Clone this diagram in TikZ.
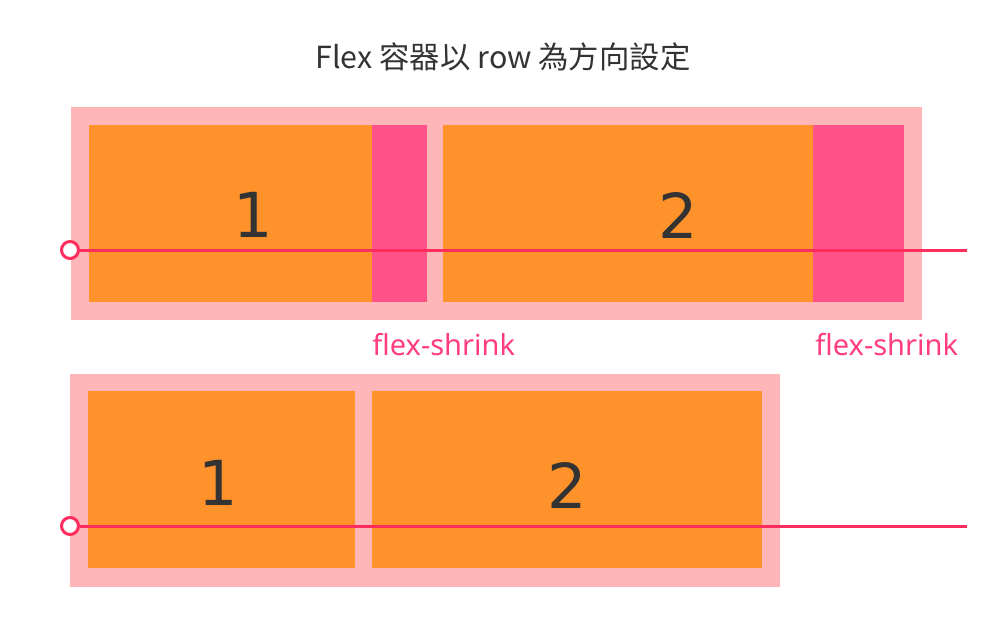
\documentclass[tikz,border=0pt]{standalone}
\usepackage{fontspec}
\setmainfont{Noto Sans}
\newfontfamily\cjkfont{Noto Sans CJK TC}
\newfontfamily\digitfont{DejaVu Sans}
\definecolor{contpink}{HTML}{FFB6B9}
\definecolor{itemorange}{HTML}{FF922B}
\definecolor{shrinkpink}{HTML}{FF5288}
\definecolor{axisred}{HTML}{FF2D5E}
\definecolor{labelpink}{HTML}{FF3D7F}
\definecolor{textdark}{HTML}{333333}
\begin{document}
\begin{tikzpicture}[x=0.5pt,y=-0.5pt,
  container/.style={fill=contpink, draw=none, anchor=north west, inner sep=0pt, outer sep=0pt},
  item/.style={fill=itemorange, draw=none, anchor=north west, inner sep=0pt, outer sep=0pt},
  shrinkbox/.style={fill=shrinkpink, draw=none, anchor=north west, inner sep=0pt, outer sep=0pt},
  digit/.style={text=textdark, font=\digitfont\fontsize{31}{31}\selectfont, inner sep=0pt},
  shrinklabel/.style={text=labelpink, font=\fontsize{14.5}{16}\selectfont, anchor=base west, inner sep=0pt},
  axisline/.style={draw=axisred, line width=1.5pt},
  startdot/.style={circle, draw=axisred, line width=1.5pt, fill=white, minimum size=8.5pt, inner sep=0pt}
]
\useasboundingbox (0,0) rectangle (1000,620);

% title
\node[text=textdark, font=\cjkfont\fontsize{15.2}{18}\selectfont, inner sep=0pt] (title) at (503,57) {Flex 容器以 row 為方向設定};

% top container
\node[container, minimum width=425.5pt, minimum height=106.5pt] (topc) at (71,107) {};
\node[item, minimum width=169pt, minimum height=88.5pt] (t1) at (89,125) {};
\node[shrinkbox, minimum width=27.5pt, minimum height=88.5pt] (ts1) at (372,125) {};
\node[item, minimum width=230.5pt, minimum height=88.5pt] (t2) at (443,125) {};
\node[shrinkbox, minimum width=45.5pt, minimum height=88.5pt] (ts2) at (813,125) {};
\node[digit] (t1d) at (253,215) {1};
\node[digit] (t2d) at (678,215) {2};

\node[startdot] (tdot) at (70,250) {};
\coordinate (tend) at (967,250);
\draw[axisline] (tdot.east) -- (tend);

\node[shrinklabel] (tl1) at (372,355) {flex-shrink};
\node[shrinklabel] (tl2) at (815,355) {flex-shrink};

% bottom container
\node[container, minimum width=355pt, minimum height=106.5pt] (botc) at (70,374) {};
\node[item, minimum width=133.5pt, minimum height=88.5pt] (b1) at (88,391) {};
\node[item, minimum width=195pt, minimum height=88.5pt] (b2) at (372,391) {};
\node[digit] (b1d) at (218,483) {1};
\node[digit] (b2d) at (567,485) {2};

\node[startdot] (bdot) at (70,526) {};
\coordinate (bend) at (967,526);
\draw[axisline] (bdot.east) -- (bend);
\end{tikzpicture}
\end{document}
